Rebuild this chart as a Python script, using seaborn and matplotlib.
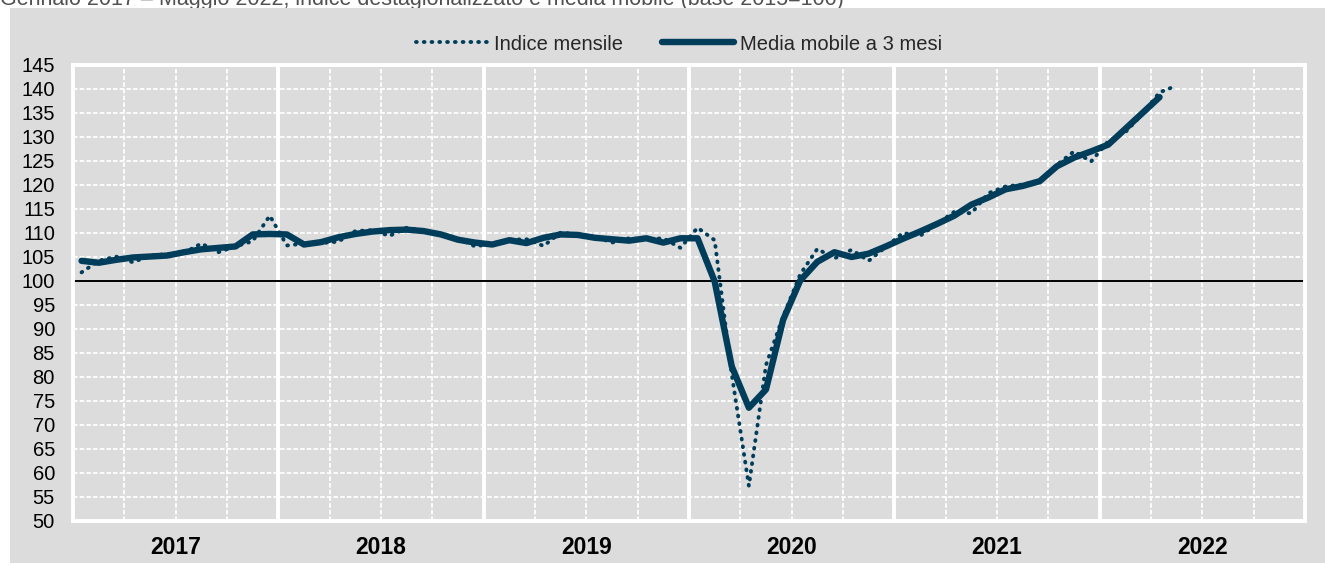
import matplotlib
matplotlib.use("Agg")
import numpy as np
import pandas as pd
import seaborn as sns
import matplotlib.pyplot as plt
from matplotlib.lines import Line2D
from matplotlib.patches import Rectangle
from matplotlib import font_manager as fm

# ---------------- data ----------------
title_text = "Gennaio 2017 \u2013 Maggio 2022, indice destagionalizzato e media mobile (base 2015=100)"
years = ["2017", "2018", "2019", "2020", "2021", "2022"]
series_labels = ["Indice mensile", "Media mobile a 3 mesi"]

# monthly index, Jan 2017 .. May 2022 (65 months)
monthly_index = [
    101.8, 104.2, 105.1, 103.9, 105.3, 105.6, 105.9, 107.8, 106.0, 107.2, 108.3, 113.6,  # 2017
    107.4, 107.8, 107.9, 108.2, 110.4, 110.6, 109.4, 111.1, 110.5, 109.8, 108.9, 107.2,  # 2018
    107.8, 108.6, 108.7, 107.3, 110.1, 109.7, 109.3, 108.0, 108.9, 108.7, 108.9, 106.9,  # 2019
    111.1, 108.5, 80.5, 57.3, 82.5, 92.6, 101.4, 106.7, 104.7, 106.5, 104.2, 107.1,      # 2020
    110.0, 109.4, 111.9, 114.4, 114.1, 118.3, 119.7, 120.1, 120.9, 124.2, 127.0, 124.9,  # 2021
    129.1, 131.0, 134.8, 139.3, 140.7,                                                  # 2022
]
# 3-month moving average, Jan 2017 .. Apr 2022 (64 months)
moving_avg = [
    104.2, 103.8, 104.4, 104.9, 105.1, 105.3, 106.0, 106.6, 106.9, 107.2, 109.7, 109.8,
    109.7, 107.6, 108.1, 109.1, 109.8, 110.3, 110.6, 110.7, 110.4, 109.7, 108.6, 108.0,
    107.6, 108.5, 107.9, 109.0, 109.7, 109.6, 109.0, 108.7, 108.4, 108.9, 108.0, 108.9,
    108.9, 99.9, 82.2, 73.6, 77.4, 91.9, 100.1, 104.0, 106.0, 105.0, 105.7, 107.2,
    108.8, 110.3, 111.9, 113.6, 115.9, 117.4, 119.1, 119.8, 120.8, 123.9, 125.7, 127.0,
    128.4, 131.7, 135.0, 138.3,
]
y_ticks = list(range(50, 150, 5))

# ---------------- style ----------------
sns.set_style("white")
names = {f.name for f in fm.fontManager.ttflist}
fam = "Liberation Sans Narrow" if "Liberation Sans Narrow" in names else "Liberation Sans"
plt.rcParams["font.family"] = [fam, "DejaVu Sans"]

W, H = 1325, 565
LINE_C = "#003D5B"
BG = "#DCDCDC"
DOT_LS = (0, (0.2, 1.8))

fig = plt.figure(figsize=(W / 100, H / 100), dpi=100)
fig.patch.set_facecolor("white")
fig.add_artist(Rectangle((10 / W, 2 / H), (W - 10) / W, (H - 10) / H,
                         transform=fig.transFigure, facecolor=BG,
                         edgecolor="none", zorder=-1))
fig.text(0 / W, 1 - 5 / H, title_text, ha="left", va="baseline",
         fontsize=15.5, color="#505050", zorder=-2)

ax = fig.add_axes([73 / W, 1 - 521 / H, (1305 - 73) / W, (521 - 65) / H])
ax.set_facecolor(BG)

# grid
for v in y_ticks[1:-1]:
    ax.axhline(v, color="white", lw=1.3, ls=(0, (2.5, 1.2)), zorder=1)
for q in range(1, 24):
    xq = q * 3 - 0.5
    if q % 4 == 0:
        ax.axvline(xq, color="white", lw=2.8, zorder=1)
    else:
        ax.axvline(xq, color="white", lw=1.3, ls=(0, (2.5, 1.2)), zorder=1)
ax.axhline(100, color="black", lw=1.4, zorder=2)

df_m = pd.DataFrame({"month": np.arange(len(monthly_index)), "value": monthly_index})
df_a = pd.DataFrame({"month": np.arange(len(moving_avg)), "value": moving_avg})

sns.lineplot(data=df_m, x="month", y="value", ax=ax, color=LINE_C, lw=2.8,
             linestyle=DOT_LS, dash_capstyle="round", zorder=3)
sns.lineplot(data=df_a, x="month", y="value", ax=ax, color=LINE_C, lw=4.6,
             solid_capstyle="round", solid_joinstyle="round", zorder=4)

ax.set_xlim(-0.5, 71.5)
ax.set_ylim(50, 145)
ax.set_yticks(y_ticks)
ax.set_yticklabels([str(v) for v in y_ticks])
ax.set_xticks([5.5 + 12 * k for k in range(len(years))])
ax.set_xticklabels(years, fontweight="bold")
ax.tick_params(axis="y", length=0, pad=13, labelsize=14.5, colors="black")
ax.tick_params(axis="x", length=0, pad=11, labelsize=16.5, colors="black")
ax.set_xlabel("")
ax.set_ylabel("")
for s in ax.spines.values():
    s.set_visible(True)
    s.set_color("white")
    s.set_linewidth(2.8)
    s.set_zorder(5)

handles = [
    Line2D([], [], color=LINE_C, lw=2.8, ls=DOT_LS, dash_capstyle="round"),
    Line2D([], [], color=LINE_C, lw=4.6, solid_capstyle="round"),
]
fig.legend(handles, series_labels, loc="center", bbox_to_anchor=(679 / W, 1 - 44 / H),
           ncol=2, frameon=False, handlelength=3.6, columnspacing=1.9,
           handletextpad=0.3, fontsize=14.5)

fig.savefig("out.png", dpi=100, facecolor=fig.get_facecolor())
